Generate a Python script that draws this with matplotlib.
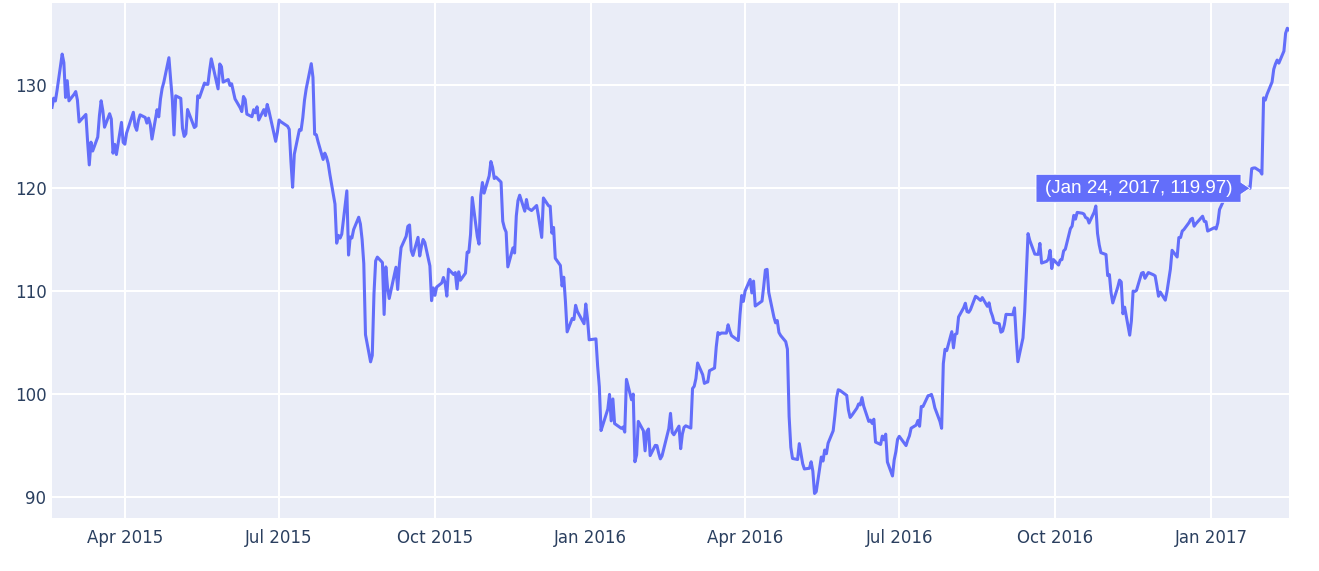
import pandas as pd
import matplotlib
matplotlib.use("Agg")
import matplotlib.pyplot as plt
import matplotlib.dates as mdates
import matplotlib.transforms as mtransforms
from matplotlib.patches import Polygon

# NYSE trading days, Feb 17 2015 .. Feb 16 2017
holidays = ["2015-04-03", "2015-05-25", "2015-07-03", "2015-09-07", "2015-11-26",
            "2015-12-25", "2016-01-01", "2016-01-18", "2016-02-15", "2016-03-25",
            "2016-05-30", "2016-07-04", "2016-09-05", "2016-11-24", "2016-12-26",
            "2017-01-02", "2017-01-16"]
dates = pd.bdate_range("2015-02-17", "2017-02-16", freq="C", holidays=holidays)

# closing price, one line per month
closes = [
    127.83, 128.72, 128.45, 129.50, 133.00, 132.17, 128.79, 130.42, 128.46,
    129.09, 129.36, 128.54, 126.41, 126.60, 127.14, 124.51, 122.24, 124.45, 123.59, 124.95,
    127.04, 128.47, 127.50, 125.90, 127.21, 126.69, 123.38, 124.24, 123.25, 126.37, 124.43,
    124.25, 125.32, 127.35, 126.01, 125.60, 126.56, 127.10, 126.85, 126.30, 126.78, 126.17,
    124.75, 127.60, 126.91, 128.62, 129.67, 130.28, 132.65, 130.56, 128.64, 125.15,
    128.95, 128.70, 125.80, 125.01, 125.26, 127.62, 126.32, 125.87, 126.01, 128.95, 128.77,
    130.19, 130.07, 130.06, 131.39, 132.54, 129.62, 132.04, 131.78, 130.28,
    130.53, 129.96, 130.12, 129.36, 128.65, 127.80, 127.42, 128.88, 128.59, 127.17, 126.92,
    127.60, 127.30, 127.88, 126.60, 127.61, 127.03, 128.11, 127.50, 126.75, 124.53, 125.42,
    126.60, 126.44, 126.00, 125.69, 122.57, 120.07, 123.28, 125.66, 125.61, 126.82, 128.51,
    129.62, 132.07, 130.75, 125.22, 125.16, 124.50, 122.77, 123.38, 122.99, 122.37, 121.30,
    118.44, 114.64, 115.40, 115.13, 115.52, 119.72, 113.49, 115.24, 115.15, 115.96, 117.16,
    116.50, 115.01, 112.65, 105.76, 103.12, 103.74, 109.69, 112.92, 113.29, 112.76,
    107.72, 112.34, 110.37, 109.27, 112.31, 110.15, 112.57, 114.21, 115.31, 116.28, 116.41,
    113.92, 113.45, 115.21, 113.40, 114.32, 115.00, 114.71, 112.44, 109.06, 110.30,
    109.58, 110.38, 110.78, 111.31, 110.78, 109.50, 112.12, 111.60, 111.79, 110.21, 111.86,
    111.04, 111.73, 113.77, 113.76, 115.50, 119.08, 115.28, 114.55, 119.27, 120.53, 119.50,
    121.18, 122.57, 122.00, 120.92, 121.06, 120.57, 116.77, 116.11, 115.72, 112.34, 114.18,
    113.69, 117.29, 118.78, 119.30, 117.75, 118.88, 118.03, 117.81, 118.30,
    117.34, 116.28, 115.20, 119.03, 118.28, 118.23, 115.62, 116.17, 113.18, 112.48, 110.49,
    111.34, 108.98, 106.03, 107.33, 107.23, 108.61, 108.03, 106.82, 108.74, 107.32, 105.26,
    105.35, 102.71, 100.70, 96.45, 96.96, 98.53, 99.96, 97.39, 99.52, 97.13,
    96.66, 96.79, 96.30, 101.42, 99.44, 99.99, 93.42, 94.09, 97.34,
    96.43, 94.48, 96.35, 96.60, 94.02, 95.01, 94.99, 94.27, 93.70, 93.99,
    96.64, 98.12, 96.26, 96.04, 96.88, 94.69, 96.10, 96.76, 96.91, 96.69,
    100.53, 100.75, 101.50, 103.01, 101.87, 101.03, 101.12, 101.17, 102.26, 102.52, 104.58,
    105.97, 105.80, 105.92, 105.91, 106.72, 106.13, 105.67, 105.19, 107.68, 109.56, 108.99,
    109.99, 111.12, 109.81, 110.96, 108.54, 108.66, 109.02, 110.44, 112.04, 112.10, 109.85,
    107.48, 106.91, 107.13, 105.97, 105.68, 105.08, 104.35, 97.82, 94.83, 93.74,
    93.64, 95.18, 94.19, 93.24, 92.72, 92.79, 93.42, 92.51, 90.34, 90.52, 93.88,
    93.49, 94.56, 94.20, 95.22, 96.43, 97.90, 99.62, 100.41, 100.35, 99.86,
    98.46, 97.72, 97.92, 98.63, 99.03, 98.94, 99.65, 98.83, 97.34, 97.46, 97.14,
    97.55, 95.33, 95.10, 95.91, 95.55, 96.10, 93.40, 92.04, 93.59, 94.40, 95.60,
    95.89, 94.99, 95.53, 95.94, 96.68, 96.98, 97.42, 96.87, 98.79, 98.78,
    99.83, 99.87, 99.96, 99.43, 98.66, 97.34, 96.67, 102.95, 104.34, 104.21,
    106.05, 104.48, 105.79, 105.87, 107.48, 108.37, 108.81, 108.00, 107.93, 108.18, 109.48, 109.38,
    109.22, 109.08, 109.36, 108.51, 108.85, 108.03, 107.57, 106.94, 106.82, 106.00, 106.10,
    106.73, 107.73, 107.70, 108.36, 105.52, 103.13, 105.44, 107.95, 111.77, 115.57, 114.92,
    113.58, 113.57, 113.55, 114.62, 112.71, 112.88, 113.09, 113.95, 112.18, 113.05,
    112.52, 113.00, 113.05, 113.89, 114.06, 116.05, 116.30, 117.34, 116.98, 117.63, 117.55,
    117.47, 117.12, 117.06, 116.60, 117.65, 118.25, 115.59, 114.48, 113.72, 113.54,
    111.49, 111.59, 109.83, 108.84, 110.41, 111.06, 110.88, 107.79, 108.43, 105.71, 107.11,
    109.99, 109.95, 110.06, 111.73, 111.80, 111.23, 111.79, 111.57, 111.46, 110.52,
    109.49, 109.90, 109.11, 109.95, 111.03, 112.12, 113.95, 113.30, 115.19, 115.19, 115.82,
    115.97, 116.64, 116.95, 117.06, 116.29, 116.52, 117.26, 116.76, 116.73, 115.82,
    116.15, 116.02, 116.61, 117.91, 118.99, 119.11, 119.75, 119.25, 119.04, 120.00,
    119.99, 119.78, 120.00, 120.08, 119.97, 121.88, 121.94, 121.95, 121.63, 121.35,
    128.75, 128.53, 129.08, 130.29, 131.53, 132.04, 132.42, 132.12, 133.29, 135.02, 135.51, 135.35,
]

hover_date = "2017-01-24"
hover_value = 119.97
hover_text = "(Jan 24, 2017, 119.97)"

line_color = "#636EFA"
bg_color = "#EAEDF7"
text_color = "#2A3F5F"

fig = plt.figure(figsize=(13.19, 5.71), dpi=100)
ax = fig.add_axes([52 / 1319, 53 / 571, 1237 / 1319, 515 / 571])
ax.set_facecolor(bg_color)

ax.plot(dates, closes, color=line_color, lw=2.2, solid_joinstyle="round", zorder=3)

ax.set_xlim(dates[0], dates[-1])
ax.set_ylim(87.96, 137.96)
ax.set_yticks([90, 100, 110, 120, 130])
ax.xaxis.set_major_locator(mdates.MonthLocator(bymonth=[1, 4, 7, 10]))
ax.xaxis.set_major_formatter(mdates.DateFormatter("%b %Y"))

ax.grid(True, color="white", lw=1.5, zorder=1)
ax.set_axisbelow(True)
for s in ax.spines.values():
    s.set_visible(False)
ax.tick_params(length=0, labelsize=12, colors=text_color)
ax.tick_params(axis="x", pad=8)
ax.tick_params(axis="y", pad=4)

# hover label, drawn in pixel units to the left of the point
fig.canvas.draw()
px, py = ax.transData.transform((mdates.date2num(pd.Timestamp(hover_date)), hover_value))
w, h, a = 205, 28, 9
pts = [(px, py), (px - a, py + 6), (px - a, py + h / 2), (px - a - w, py + h / 2),
       (px - a - w, py - h / 2), (px - a, py - h / 2), (px - a, py - 6)]
fig.patches.append(Polygon(pts, closed=True, fc=line_color, ec="white", lw=0.6,
                           transform=mtransforms.IdentityTransform(), zorder=5))
fig.text((px - a - w / 2) / 1319, py / 571, hover_text, color="white", fontsize=13.5,
         family="Liberation Sans", ha="center", va="center", zorder=6)

fig.savefig("out.png", dpi=100)
